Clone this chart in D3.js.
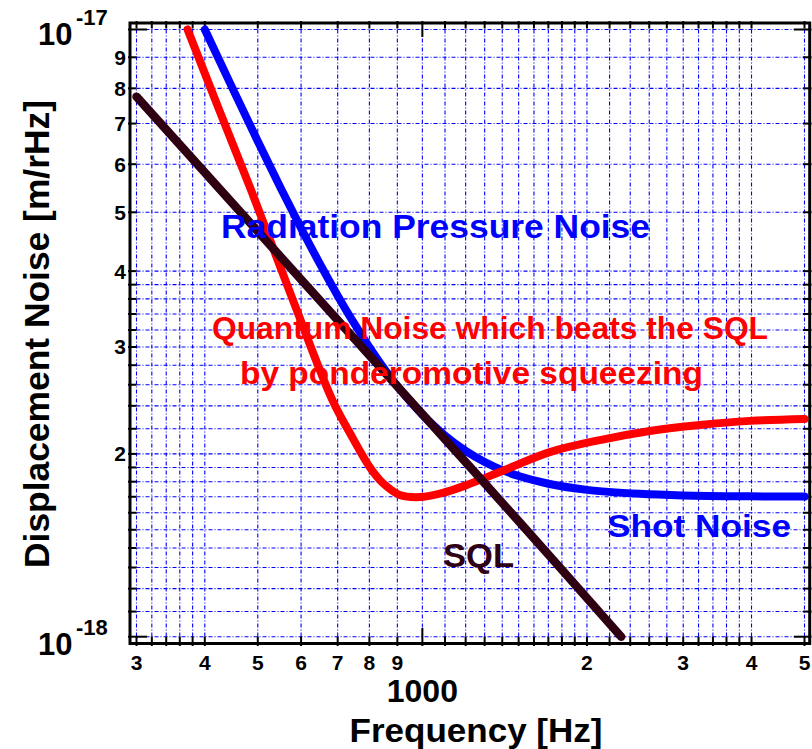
<!DOCTYPE html>
<html><head><meta charset="utf-8">
<script src="https://cdn.jsdelivr.net/npm/d3@7"></script>
<style>
body{margin:0;background:#fff;}
svg{display:block;}
text{font-family:"Liberation Sans",Arial,Helvetica,sans-serif;font-weight:bold;}
</style>
</head><body>
<svg id="chart" width="812" height="749"></svg>
<script>
// ---- data ----
// Quantum noise with ponderomotive squeezing (red)
const quantumFreq  = [372, 426, 486, 580, 685, 737, 802, 847, 909, 989, 1090, 1206, 1385, 1710, 2112, 2606, 3216, 3969, 5000];
const quantumNoise = [10.0e-18, 7.33e-18, 5.44e-18, 3.58e-18, 2.45e-18, 2.165e-18, 1.90e-18, 1.79e-18, 1.712e-18, 1.698e-18, 1.725e-18, 1.778e-18, 1.867e-18, 2.014e-18, 2.108e-18, 2.182e-18, 2.232e-18, 2.267e-18, 2.284e-18];
// Conventional quantum noise: radiation pressure + shot noise (blue)
const convFreq  = [400, 450, 500, 550, 600, 650, 700, 750, 800, 850, 900, 950, 1000, 1100, 1200, 1300, 1400, 1500, 1700, 2000, 2500, 3000, 4000, 5000];
const convNoise = [10.0e-18, 7.985e-18, 6.545e-18, 5.493e-18, 4.707e-18, 4.108e-18, 3.645e-18, 3.283e-18, 2.998e-18, 2.770e-18, 2.588e-18, 2.440e-18, 2.321e-18, 2.144e-18, 2.023e-18, 1.940e-18, 1.881e-18, 1.839e-18, 1.786e-18, 1.745e-18, 1.719e-18, 1.709e-18, 1.703e-18, 1.701e-18];
// Standard quantum limit (dark)
const sqlFreq  = [300, 500, 1000, 1500, 2310];
const sqlNoise = [7.75e-18, 4.65e-18, 2.325e-18, 1.55e-18, 1.0e-18];

// grid / tick positions
const xGridValues = [300, 320, 340, 360, 380, 400, 500, 600, 700, 800, 900, 1000, 1100, 1200, 1300, 1400, 1500, 1600, 1700, 1800, 1900, 2000, 2200, 2400, 2600, 2800, 3000, 3200, 3400, 3600, 3800, 4000, 5000];
const yGridValues = [1.0e-18, 1.1e-18, 1.2e-18, 1.3e-18, 1.4e-18, 1.5e-18, 1.6e-18, 1.7e-18, 1.8e-18, 1.9e-18, 2.0e-18, 2.2e-18, 2.4e-18, 2.6e-18, 2.8e-18, 3.0e-18, 3.2e-18, 3.4e-18, 3.6e-18, 3.8e-18, 4e-18, 5e-18, 6e-18, 7e-18, 8e-18, 9e-18, 1e-17];
const xLabelValues = [300, 400, 500, 600, 700, 800, 900, 2000, 3000, 4000, 5000];
const xLabelTexts  = ["3", "4", "5", "6", "7", "8", "9", "2", "3", "4", "5"];
const xMajorValue = 1000, xMajorText = "1000";
const yLabelValues = [2e-18, 3e-18, 4e-18, 5e-18, 6e-18, 7e-18, 8e-18, 9e-18];
const yLabelTexts  = ["2", "3", "4", "5", "6", "7", "8", "9"];
const yMajorValues = [1e-17, 1e-18];
const yMajorExps   = ["-17", "-18"];

// ---- drawing ----
const svg = d3.select("#chart");
const x = d3.scaleLog().domain([300, 5000]).range([136.5, 804.5]);
const y = d3.scaleLog().domain([1e-18, 1e-17]).range([636.7, 29.5]);

const frame = {left: 130, top: 23, right: 809.7, bottom: 643.5};

// grid
const grid = svg.append("g")
  .attr("stroke", "#0000ff").attr("stroke-width", 1.1)
  .attr("stroke-dasharray", "4,2,1,2").attr("fill", "none");
grid.selectAll("line.v").data(xGridValues).join("line").attr("class", "v")
  .attr("x1", d => x(d)).attr("x2", d => x(d))
  .attr("y1", y(1e-17)).attr("y2", y(1e-18));
grid.selectAll("line.h").data(yGridValues).join("line").attr("class", "h")
  .attr("y1", d => y(d)).attr("y2", d => y(d))
  .attr("x1", x(300)).attr("x2", x(5000));

// frame
svg.append("rect")
  .attr("x", frame.left).attr("y", frame.top)
  .attr("width", frame.right - frame.left).attr("height", frame.bottom - frame.top)
  .attr("fill", "none").attr("stroke", "#000").attr("stroke-width", 3);

// ticks
const ticks = svg.append("g").attr("stroke", "#000").attr("stroke-width", 2);
ticks.selectAll("line.b").data(xGridValues).join("line").attr("class", "b")
  .attr("x1", d => x(d)).attr("x2", d => x(d))
  .attr("y1", d => d === xMajorValue ? 628 : 636.5).attr("y2", 646);
ticks.selectAll("line.t").data(xGridValues).join("line").attr("class", "t")
  .attr("x1", d => x(d)).attr("x2", d => x(d))
  .attr("y1", 21).attr("y2", d => d === xMajorValue ? 37 : 28.5);
ticks.selectAll("line.l").data(yGridValues).join("line").attr("class", "l")
  .attr("y1", d => y(d)).attr("y2", d => y(d))
  .attr("x1", 128).attr("x2", d => yMajorValues.includes(d) ? 147 : 136.5);
ticks.selectAll("line.r").data(yGridValues).join("line").attr("class", "r")
  .attr("y1", d => y(d)).attr("y2", d => y(d))
  .attr("x1", d => yMajorValues.includes(d) ? 794 : 803).attr("x2", 811.5);

// curves
const line = d3.line().x(d => x(d[0])).y(d => y(d[1])).curve(d3.curveCatmullRom.alpha(0.5));
const series = [
  {f: convFreq, v: convNoise, color: "#0000ff", w: 8},
  {f: quantumFreq, v: quantumNoise, color: "#ff0000", w: 8},
  {f: sqlFreq, v: sqlNoise, color: "#2e0012", w: 8.5}
];
svg.append("g").selectAll("path").data(series).join("path")
  .attr("d", s => line(s.f.map((f, i) => [f, s.v[i]])))
  .attr("fill", "none").attr("stroke", s => s.color).attr("stroke-width", s => s.w)
  .attr("stroke-linecap", "round").attr("stroke-linejoin", "round");

// axis tick labels
svg.append("g").selectAll("text").data(xLabelValues).join("text")
  .attr("x", d => x(d)).attr("y", 670).attr("text-anchor", "middle")
  .attr("font-size", 21).attr("fill", "#000")
  .text((d, i) => xLabelTexts[i]);
svg.append("text").attr("x", x(xMajorValue)).attr("y", 702).attr("text-anchor", "middle")
  .attr("font-size", 32).attr("fill", "#000").text(xMajorText);

svg.append("g").selectAll("text").data(yLabelValues).join("text")
  .attr("x", 126).attr("y", d => y(d) + 7.5).attr("text-anchor", "end")
  .attr("font-size", 21).attr("fill", "#000")
  .text((d, i) => yLabelTexts[i]);

yMajorValues.forEach((v, i) => {
  const base = y(v) + (i === 0 ? 15.5 : 18);
  svg.append("text").attr("x", 38).attr("y", base).attr("font-size", 31).attr("fill", "#000").text("10");
  svg.append("text").attr("x", 76).attr("y", base - 20).attr("font-size", 22).attr("fill", "#000").text(yMajorExps[i]);
});

// axis titles
svg.append("text").attr("x", 476).attr("y", 742).attr("text-anchor", "middle")
  .attr("font-size", 33).attr("textLength", 253).attr("lengthAdjust", "spacingAndGlyphs")
  .attr("fill", "#000").text("Frequency [Hz]");
svg.append("text").attr("transform", "translate(49,334) rotate(-90)").attr("text-anchor", "middle")
  .attr("font-size", 35).attr("textLength", 468).attr("lengthAdjust", "spacingAndGlyphs")
  .attr("fill", "#000").text("Displacement Noise [m/rHz]");

// annotations
const notes = [
  {t: "Radiation Pressure Noise", x: 221, y: 238, len: 429, c: "#0000ff", s: 33},
  {t: "Quantum Noise which beats the SQL", x: 212, y: 339, len: 556, c: "#ff0000", s: 32},
  {t: "by ponderomotive squeezing", x: 240, y: 384, len: 463, c: "#ff0000", s: 32},
  {t: "Shot Noise", x: 607, y: 537, len: 184, c: "#0000ff", s: 31},
  {t: "SQL", x: 443, y: 567, len: 71, c: "#2e0012", s: 33}
];
svg.append("g").selectAll("text").data(notes).join("text")
  .attr("x", d => d.x).attr("y", d => d.y).attr("font-size", d => d.s)
  .attr("textLength", d => d.len).attr("lengthAdjust", "spacingAndGlyphs")
  .attr("fill", d => d.c).text(d => d.t);
</script>
</body></html>
